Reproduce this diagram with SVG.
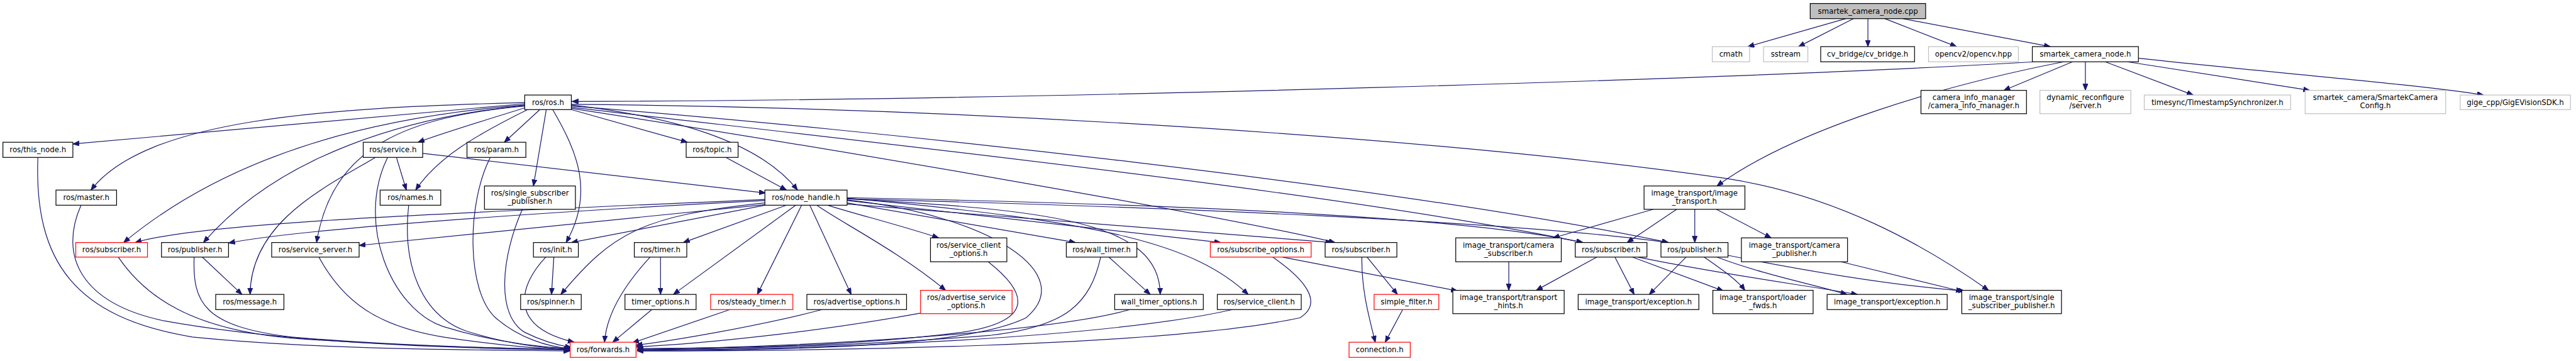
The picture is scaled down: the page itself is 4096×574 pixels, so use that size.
<svg xmlns="http://www.w3.org/2000/svg" width="4096" height="574" viewBox="0 0 4096 574">
<defs>
<marker id="a" markerUnits="userSpaceOnUse" markerWidth="12" markerHeight="10" refX="11" refY="4.3" orient="auto">
<path d="M0,0 L11,4.3 L0,8.6 z" fill="#191970" stroke="#191970" stroke-width="1"/>
</marker>
<style>
.e{fill:none;stroke:#191970;stroke-width:1.3;marker-end:url(#a)}
.n rect{fill:#fff;stroke:#000;stroke-width:1.3}
.g rect{fill:#fff;stroke:#bfbfbf;stroke-width:1.3}
.r rect{fill:#fff;stroke:#ff0000;stroke-width:1.3}
.root rect{fill:#bfbfbf;stroke:#000;stroke-width:1.3}
text{font-family:"DejaVu Sans","Liberation Sans",sans-serif;font-size:12.7px;fill:#000;text-anchor:middle}
</style>
</defs>
<rect width="4096" height="574" fill="#fff"/>
<g transform="scale(0.927)">
<g id="edges">
<path class="e" d="M3166,32 L2998,80"/>
<path class="e" d="M3179,32 L3085,80"/>
<path class="e" d="M3204,32 L3204,80"/>
<path class="e" d="M3233,32 L3356,80"/>
<path class="e" d="M3264,32 L3517,80"/>
<path class="e" d="M3490,106 C3000,135 1800,172 981,174"/>
<path class="e" d="M3540,106 C3340,145 3080,220 2945,319"/>
<path class="e" d="M3555,106 L3437,155"/>
<path class="e" d="M3577,106 L3577,155"/>
<path class="e" d="M3611,106 L3762,163"/>
<path class="e" d="M3649,106 L3962,155"/>
<path class="e" d="M3668,100 C3900,125 4150,145 4260,163"/>
<path class="e" d="M900,176 C550,185 250,205 156,326"/>
<path class="e" d="M900,178 L125,247"/>
<path class="e" d="M900,180 C650,200 400,260 212,416"/>
<path class="e" d="M900,181 C700,200 480,265 349,416"/>
<path class="e" d="M900,182 C700,200 570,250 543,416"/>
<path class="e" d="M900,185 C820,210 760,228 717,244"/>
<path class="e" d="M905,188 C820,230 750,270 713,326"/>
<path class="e" d="M926,188 L865,244"/>
<path class="e" d="M937,188 L915,319"/>
<path class="e" d="M948,188 C990,260 1020,330 971,416"/>
<path class="e" d="M980,188 L1179,244"/>
<path class="e" d="M980,180 C1150,200 1300,240 1368,326"/>
<path class="e" d="M980,179 C1700,185 2500,240 2960,306 C3150,335 3300,420 3411,498"/>
<path class="e" d="M980,182 C1500,222 2400,320 2862,416"/>
<path class="e" d="M980,184 C1500,245 2300,330 2715,416"/>
<path class="e" d="M980,186 C1400,250 2100,370 2290,416"/>
<path class="e" d="M725,263 L1313,331"/>
<path class="e" d="M644,270 C560,320 430,380 429,505"/>
<path class="e" d="M665,270 C610,380 670,530 760,560 C840,585 920,595 978,598"/>
<path class="e" d="M680,270 L697,326"/>
<path class="e" d="M65,270 C58,450 130,545 330,578 C550,600 800,600 978,602"/>
<path class="e" d="M139,352 C100,440 140,520 280,550 C500,590 800,598 978,600"/>
<path class="e" d="M203,441 C250,510 330,565 500,580 C700,595 900,598 978,600"/>
<path class="e" d="M347,441 L415,505"/>
<path class="e" d="M333,441 C330,520 350,560 500,578 C700,595 900,598 978,600"/>
<path class="e" d="M547,441 C590,520 650,560 760,578 C850,592 920,598 978,600"/>
<path class="e" d="M701,352 C690,450 720,540 800,568 C870,590 930,597 978,599"/>
<path class="e" d="M841,270 C800,350 800,500 850,545 C890,580 940,595 978,598"/>
<path class="e" d="M896,359 C860,440 850,540 900,570 C930,585 955,592 980,596"/>
<path class="e" d="M950,441 L946,505"/>
<path class="e" d="M936,441 C890,490 870,560 985,587"/>
<path class="e" d="M1245,270 L1349,326"/>
<path class="e" d="M1312,342 C800,365 350,380 232,416"/>
<path class="e" d="M1312,344 C900,365 500,395 392,417"/>
<path class="e" d="M1312,351 L616,421"/>
<path class="e" d="M1312,352 L980,416"/>
<path class="e" d="M1312,348 C1100,370 1050,400 962,505"/>
<path class="e" d="M1349,352 L1172,416"/>
<path class="e" d="M1365,352 L1155,505"/>
<path class="e" d="M1375,352 L1299,505"/>
<path class="e" d="M1389,352 L1460,505"/>
<path class="e" d="M1401,352 C1440,380 1540,430 1622,498"/>
<path class="e" d="M1420,352 C1470,368 1540,385 1610,408"/>
<path class="e" d="M1453,343 C1700,370 1850,470 1760,545 C1650,600 1300,600 1093,601"/>
<path class="e" d="M1453,348 L1845,416"/>
<path class="e" d="M1453,341 C1800,360 1990,380 1990,505"/>
<path class="e" d="M1453,344 L2094,416"/>
<path class="e" d="M1453,340 C1900,380 2050,420 2141,505"/>
<path class="e" d="M1453,350 C1800,380 2100,400 2285,416"/>
<path class="e" d="M1453,339 C2000,350 2500,370 2715,416"/>
<path class="e" d="M1453,341 C2000,355 2600,380 2862,416"/>
<path class="e" d="M1133,441 L1133,505"/>
<path class="e" d="M1115,441 C1070,490 1040,540 1037,587"/>
<path class="e" d="M1118,531 L1051,587"/>
<path class="e" d="M1252,531 L1085,588"/>
<path class="e" d="M1410,531 C1300,560 1150,585 1091,592"/>
<path class="e" d="M1579,537 C1400,570 1200,590 1091,595"/>
<path class="e" d="M1695,449 C1760,500 1780,550 1650,570 C1450,595 1250,597 1093,598"/>
<path class="e" d="M1902,441 L1973,505"/>
<path class="e" d="M1888,441 C1870,520 1830,560 1700,575 C1450,595 1250,598 1093,600"/>
<path class="e" d="M1938,531 C1800,570 1400,595 1093,599"/>
<path class="e" d="M2114,531 C1900,580 1400,600 1093,601"/>
<path class="e" d="M2183,441 C2240,480 2270,520 2230,545 C2000,595 1400,602 1093,602"/>
<path class="e" d="M2200,441 L2500,499"/>
<path class="e" d="M2345,441 L2397,505"/>
<path class="e" d="M2336,441 C2335,500 2350,550 2359,587"/>
<path class="e" d="M2406,531 L2376,587"/>
<path class="e" d="M2836,359 L2664,408"/>
<path class="e" d="M2876,359 L2791,416"/>
<path class="e" d="M2907,359 L2907,416"/>
<path class="e" d="M2944,359 L3038,408"/>
<path class="e" d="M2588,449 L2588,498"/>
<path class="e" d="M2739,441 L2635,498"/>
<path class="e" d="M2770,441 L2803,505"/>
<path class="e" d="M2800,441 L2956,499"/>
<path class="e" d="M2810,441 C2950,470 3100,490 3186,505"/>
<path class="e" d="M2892,441 L2829,505"/>
<path class="e" d="M2923,441 C2950,460 2980,480 2993,498"/>
<path class="e" d="M2945,441 C3020,470 3120,490 3168,505"/>
<path class="e" d="M2964,438 C3100,465 3250,490 3370,499"/>
<path class="e" d="M3158,449 L3366,500"/>
</g>
<g id="n_cpp" class="root"><rect x="3105" y="6" width="198" height="26"/><text x="3204" y="23.5">smartek_camera_node.cpp</text></g>
<g id="n_cmath" class="g"><rect x="2937" y="80" width="64" height="26"/><text x="2969" y="97.5">cmath</text></g>
<g id="n_sstream" class="g"><rect x="3025" y="80" width="76" height="26"/><text x="3063" y="97.5">sstream</text></g>
<g id="n_cvbridge" class="n"><rect x="3123" y="80" width="161" height="26"/><text x="3203.5" y="97.5">cv_bridge/cv_bridge.h</text></g>
<g id="n_opencv" class="g"><rect x="3308" y="80" width="154" height="26"/><text x="3385" y="97.5">opencv2/opencv.hpp</text></g>
<g id="n_smartek_h" class="n"><rect x="3486" y="80" width="182" height="26"/><text x="3577" y="97.5">smartek_camera_node.h</text></g>
<g id="n_ros" class="n"><rect x="900" y="163" width="80" height="25"/><text x="940" y="180">ros/ros.h</text></g>
<g id="n_cim" class="n"><rect x="3295" y="155" width="181" height="40"/><text x="3385.5" y="172">camera_info_manager</text><text x="3385.5" y="186">/camera_info_manager.h</text></g>
<g id="n_dyn" class="g"><rect x="3499" y="155" width="156" height="40"/><text x="3577" y="172">dynamic_reconfigure</text><text x="3577" y="186">/server.h</text></g>
<g id="n_timesync" class="g"><rect x="3678" y="163" width="251" height="25"/><text x="3803.5" y="180">timesync/TimestampSynchronizer.h</text></g>
<g id="n_smcfg" class="g"><rect x="3954" y="155" width="241" height="40"/><text x="4074.5" y="172">smartek_camera/SmartekCamera</text><text x="4074.5" y="186">Config.h</text></g>
<g id="n_gige" class="g"><rect x="4220" y="163" width="189" height="25"/><text x="4314.5" y="180">gige_cpp/GigEVisionSDK.h</text></g>
<g id="n_this_node" class="n"><rect x="5" y="244" width="120" height="26"/><text x="65" y="261.5">ros/this_node.h</text></g>
<g id="n_service" class="n"><rect x="623" y="244" width="102" height="26"/><text x="674" y="261.5">ros/service.h</text></g>
<g id="n_param" class="n"><rect x="801" y="244" width="101" height="26"/><text x="851.5" y="261.5">ros/param.h</text></g>
<g id="n_topic" class="n"><rect x="1177" y="244" width="89" height="26"/><text x="1221.5" y="261.5">ros/topic.h</text></g>
<g id="n_it" class="n"><rect x="2820" y="319" width="173" height="40"/><text x="2906.5" y="336">image_transport/image</text><text x="2906.5" y="350">_transport.h</text></g>
<g id="n_master" class="n"><rect x="96" y="326" width="104" height="26"/><text x="148" y="343.5">ros/master.h</text></g>
<g id="n_names" class="n"><rect x="652" y="326" width="104" height="26"/><text x="704" y="343.5">ros/names.h</text></g>
<g id="n_ssp_ros" class="n"><rect x="831" y="319" width="156" height="40"/><text x="909" y="336">ros/single_subscriber</text><text x="909" y="350">_publisher.h</text></g>
<g id="n_nh" class="n"><rect x="1312" y="326" width="141" height="26"/><text x="1382.5" y="343.5">ros/node_handle.h</text></g>
<g id="n_sub_red" class="r"><rect x="130" y="416" width="123" height="25"/><text x="191.5" y="433">ros/subscriber.h</text></g>
<g id="n_pub" class="n"><rect x="277" y="416" width="115" height="25"/><text x="334.5" y="433">ros/publisher.h</text></g>
<g id="n_ss" class="n"><rect x="466" y="416" width="150" height="25"/><text x="541" y="433">ros/service_server.h</text></g>
<g id="n_init" class="n"><rect x="915" y="416" width="77" height="25"/><text x="953.5" y="433">ros/init.h</text></g>
<g id="n_timer" class="n"><rect x="1088" y="416" width="90" height="25"/><text x="1133" y="433">ros/timer.h</text></g>
<g id="n_sco" class="n"><rect x="1596" y="408" width="131" height="41"/><text x="1661.5" y="425.5">ros/service_client</text><text x="1661.5" y="439.5">_options.h</text></g>
<g id="n_wall_timer" class="n"><rect x="1829" y="416" width="121" height="25"/><text x="1889.5" y="433">ros/wall_timer.h</text></g>
<g id="n_subopt" class="r"><rect x="2076" y="416" width="173" height="25"/><text x="2162.5" y="433">ros/subscribe_options.h</text></g>
<g id="n_sub2" class="n"><rect x="2273" y="416" width="123" height="25"/><text x="2334.5" y="433">ros/subscriber.h</text></g>
<g id="n_camsub" class="n"><rect x="2497" y="408" width="181" height="41"/><text x="2587.5" y="425.5">image_transport/camera</text><text x="2587.5" y="439.5">_subscriber.h</text></g>
<g id="n_sub3" class="n"><rect x="2702" y="416" width="123" height="25"/><text x="2763.5" y="433">ros/subscriber.h</text></g>
<g id="n_pub2" class="n"><rect x="2849" y="416" width="115" height="25"/><text x="2906.5" y="433">ros/publisher.h</text></g>
<g id="n_campub" class="n"><rect x="2987" y="408" width="182" height="41"/><text x="3078" y="425.5">image_transport/camera</text><text x="3078" y="439.5">_publisher.h</text></g>
<g id="n_message" class="n"><rect x="370" y="505" width="117" height="26"/><text x="428.5" y="522.5">ros/message.h</text></g>
<g id="n_spinner" class="n"><rect x="893" y="505" width="104" height="26"/><text x="945" y="522.5">ros/spinner.h</text></g>
<g id="n_timer_opts" class="n"><rect x="1072" y="505" width="122" height="26"/><text x="1133" y="522.5">timer_options.h</text></g>
<g id="n_steady" class="r"><rect x="1219" y="505" width="141" height="26"/><text x="1289.5" y="522.5">ros/steady_timer.h</text></g>
<g id="n_advopt" class="n"><rect x="1384" y="505" width="171" height="26"/><text x="1469.5" y="522.5">ros/advertise_options.h</text></g>
<g id="n_advsrv" class="r"><rect x="1579" y="498" width="157" height="40"/><text x="1657.5" y="515">ros/advertise_service</text><text x="1657.5" y="529">_options.h</text></g>
<g id="n_wto" class="n"><rect x="1912" y="505" width="152" height="26"/><text x="1988" y="522.5">wall_timer_options.h</text></g>
<g id="n_sc" class="n"><rect x="2088" y="505" width="144" height="26"/><text x="2160" y="522.5">ros/service_client.h</text></g>
<g id="n_sf" class="r"><rect x="2357" y="505" width="111" height="26"/><text x="2412.5" y="522.5">simple_filter.h</text></g>
<g id="n_th" class="n"><rect x="2492" y="498" width="191" height="40"/><text x="2587.5" y="515">image_transport/transport</text><text x="2587.5" y="529">_hints.h</text></g>
<g id="n_exc1" class="n"><rect x="2707" y="505" width="207" height="26"/><text x="2810.5" y="522.5">image_transport/exception.h</text></g>
<g id="n_loader" class="n"><rect x="2938" y="498" width="172" height="40"/><text x="3024" y="515">image_transport/loader</text><text x="3024" y="529">_fwds.h</text></g>
<g id="n_exc2" class="n"><rect x="3134" y="505" width="206" height="26"/><text x="3237" y="522.5">image_transport/exception.h</text></g>
<g id="n_ssp_it" class="n"><rect x="3365" y="498" width="171" height="40"/><text x="3450.5" y="515">image_transport/single</text><text x="3450.5" y="529">_subscriber_publisher.h</text></g>
<g id="n_fwd" class="r"><rect x="978" y="587" width="113" height="26"/><text x="1034.5" y="604.5">ros/forwards.h</text></g>
<g id="n_conn" class="r"><rect x="2314" y="587" width="105" height="26"/><text x="2366.5" y="604.5">connection.h</text></g>
</g>
</svg>
